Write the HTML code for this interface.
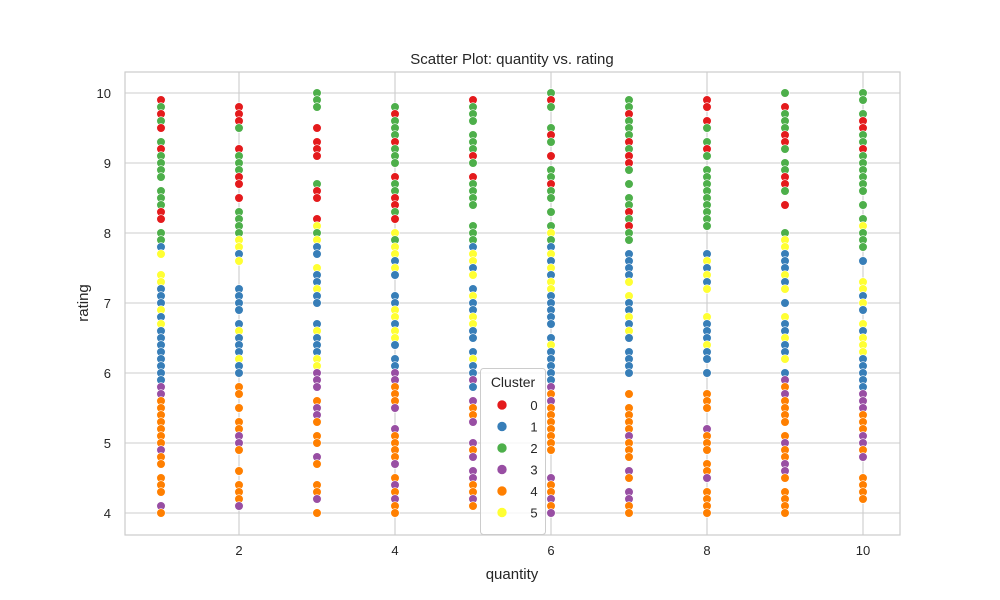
<!DOCTYPE html>
<html><head><meta charset="utf-8"><style>body{margin:0;background:#fff}svg{display:block;font-family:"Liberation Sans",sans-serif}</style></head>
<body>
<svg id="chart" width="1000" height="600">
<rect width="1000" height="600" fill="#fff"/>
<g id="grid"></g><g id="pts"></g>
<rect x="125" y="72" width="775" height="463" fill="none" stroke="#cccccc" stroke-width="1.2"/>
<text x="512" y="64" text-anchor="middle" font-size="15" fill="#262626">Scatter Plot: quantity vs. rating</text>
<text x="512" y="579" text-anchor="middle" font-size="15" fill="#262626">quantity</text>
<text transform="translate(88,303) rotate(-90)" text-anchor="middle" font-size="15" fill="#262626">rating</text>
<g id="legend"></g>
</svg>
<script>
const colors=["#e41a1c","#377eb8","#4daf4a","#984ea3","#ff7f00","#ffff33"];
const xTicks=[2,4,6,8,10];
const yTicks=[4,5,6,7,8,9,10];
const legendLabels=["0","1","2","3","4","5"];
const ratings=[
[9.9,9.8,9.7,9.6,9.5,9.3,9.2,9.1,9.0,8.9,8.8,8.6,8.5,8.4,8.3,8.2,8.0,7.9,7.8,7.7,7.4,7.3,7.2,7.1,7.0,6.9,6.8,6.7,6.6,6.5,6.4,6.3,6.2,6.1,6.0,5.9,5.8,5.7,5.6,5.5,5.4,5.3,5.2,5.1,5.0,4.9,4.8,4.7,4.5,4.4,4.3,4.1,4.0],
[9.8,9.7,9.6,9.5,9.2,9.1,9.0,8.9,8.8,8.7,8.5,8.3,8.2,8.1,8.0,7.9,7.8,7.7,7.6,7.2,7.1,7.0,6.9,6.7,6.6,6.5,6.4,6.3,6.2,6.1,6.0,5.8,5.7,5.5,5.3,5.2,5.1,5.0,4.9,4.6,4.4,4.3,4.2,4.1],
[10.0,9.9,9.8,9.5,9.3,9.2,9.1,8.7,8.6,8.5,8.2,8.1,8.0,7.9,7.8,7.7,7.5,7.4,7.3,7.2,7.1,7.0,6.7,6.6,6.5,6.4,6.3,6.2,6.1,6.0,5.9,5.8,5.6,5.5,5.4,5.3,5.1,5.0,4.8,4.7,4.4,4.3,4.2,4.0],
[9.8,9.7,9.6,9.5,9.4,9.3,9.2,9.1,9.0,8.8,8.7,8.6,8.5,8.4,8.3,8.2,8.0,7.9,7.8,7.7,7.6,7.5,7.4,7.1,7.0,6.9,6.8,6.7,6.6,6.5,6.4,6.2,6.1,6.0,5.9,5.8,5.7,5.6,5.5,5.2,5.1,5.0,4.9,4.8,4.7,4.5,4.4,4.3,4.2,4.1,4.0],
[9.9,9.8,9.7,9.6,9.4,9.3,9.2,9.1,9.0,8.8,8.7,8.6,8.5,8.4,8.1,8.0,7.9,7.8,7.7,7.6,7.5,7.4,7.2,7.1,7.0,6.9,6.8,6.7,6.6,6.5,6.3,6.2,6.1,6.0,5.9,5.8,5.6,5.5,5.4,5.3,5.0,4.9,4.8,4.6,4.5,4.4,4.3,4.2,4.1],
[10.0,9.9,9.8,9.5,9.4,9.3,9.1,8.9,8.8,8.7,8.6,8.5,8.3,8.1,8.0,7.9,7.8,7.7,7.6,7.5,7.4,7.3,7.2,7.1,7.0,6.9,6.8,6.7,6.5,6.4,6.3,6.2,6.1,6.0,5.9,5.8,5.7,5.6,5.5,5.4,5.3,5.2,5.1,5.0,4.9,4.5,4.4,4.3,4.2,4.1,4.0],
[9.9,9.8,9.7,9.6,9.5,9.4,9.3,9.2,9.1,9.0,8.9,8.7,8.5,8.4,8.3,8.2,8.1,8.0,7.9,7.7,7.6,7.5,7.4,7.3,7.1,7.0,6.9,6.8,6.7,6.6,6.5,6.3,6.2,6.1,6.0,5.7,5.5,5.4,5.3,5.2,5.1,5.0,4.9,4.8,4.6,4.5,4.3,4.2,4.1,4.0],
[9.9,9.8,9.6,9.5,9.3,9.2,9.1,8.9,8.8,8.7,8.6,8.5,8.4,8.3,8.2,8.1,7.7,7.6,7.5,7.4,7.3,7.2,6.8,6.7,6.6,6.5,6.4,6.3,6.2,6.0,5.7,5.6,5.5,5.2,5.1,5.0,4.9,4.7,4.6,4.5,4.3,4.2,4.1,4.0],
[10.0,9.8,9.7,9.6,9.5,9.4,9.3,9.2,9.0,8.9,8.8,8.7,8.6,8.4,8.0,7.9,7.8,7.7,7.6,7.5,7.4,7.3,7.2,7.0,6.8,6.7,6.6,6.5,6.4,6.3,6.2,6.0,5.9,5.8,5.7,5.6,5.5,5.4,5.3,5.1,5.0,4.9,4.8,4.7,4.6,4.5,4.3,4.2,4.1,4.0],
[10.0,9.9,9.7,9.6,9.5,9.4,9.3,9.2,9.1,9.0,8.9,8.8,8.7,8.6,8.4,8.2,8.1,8.0,7.9,7.8,7.6,7.3,7.2,7.1,7.0,6.9,6.7,6.6,6.5,6.4,6.3,6.2,6.1,6.0,5.9,5.8,5.7,5.6,5.5,5.4,5.3,5.2,5.1,5.0,4.9,4.8,4.5,4.4,4.3,4.2]
];
const clusters=[
[0,2,0,2,0,2,0,2,2,2,2,2,2,2,0,0,2,2,1,5,5,5,1,1,1,5,1,5,1,1,1,1,1,1,1,1,3,3,4,4,4,4,4,4,4,3,4,4,4,4,4,3,4],
[0,0,0,2,0,2,2,2,0,0,0,2,2,2,2,5,5,1,5,1,1,1,1,1,5,1,1,1,5,1,1,4,4,4,4,4,3,3,4,4,4,4,4,3],
[2,2,2,0,0,0,0,2,0,0,0,5,2,5,1,1,5,1,1,5,1,1,1,5,1,1,1,5,5,3,3,3,4,3,3,4,4,4,3,4,4,4,3,4],
[2,0,2,2,2,0,2,2,2,0,2,2,0,0,2,0,5,2,5,5,1,5,1,1,1,5,5,1,5,5,1,1,1,3,3,4,4,4,3,3,4,4,4,4,3,4,3,4,3,4,4],
[0,2,2,2,2,2,2,0,2,0,2,2,2,2,2,2,2,1,5,5,1,5,1,5,1,1,5,5,1,1,1,5,1,1,3,1,3,4,4,3,3,4,3,3,3,4,4,3,4],
[2,0,2,2,0,2,0,2,2,0,2,2,2,2,5,2,1,5,1,5,1,5,5,1,1,1,1,1,1,5,1,1,1,1,1,3,4,3,4,4,4,4,4,4,4,3,4,4,3,4,3],
[2,2,0,2,2,2,0,2,0,0,2,2,2,2,0,2,0,2,2,1,1,1,1,5,5,1,1,5,1,5,1,1,1,1,1,4,4,4,4,4,3,4,4,4,3,4,3,3,4,4],
[0,0,0,2,2,0,2,2,2,2,2,2,2,2,2,2,1,5,1,5,1,5,5,1,1,1,5,1,1,1,4,4,4,3,4,4,4,4,4,3,4,4,4,4],
[2,0,2,2,2,0,0,2,2,2,0,0,2,0,2,5,5,1,1,1,5,1,5,1,5,1,1,5,1,1,5,1,3,4,3,4,4,4,4,4,3,4,4,3,3,4,4,4,4,4],
[2,2,2,0,0,2,2,0,2,2,2,2,2,2,2,2,5,2,2,2,1,5,5,1,5,1,5,1,5,5,5,1,1,1,1,1,3,3,3,4,4,4,3,3,4,3,4,4,4,4]
];
const NS="http://www.w3.org/2000/svg";
const L=125,R=900,T=72,B=535;
function xs(v){return 161+(v-1)*78;}
function ys(v){return 513-(v-4)*70;}
const grid=document.getElementById('grid'),pts=document.getElementById('pts'),svg=document.getElementById('chart');
function mk(tag,attrs,parent){const e=document.createElementNS(NS,tag);for(const k in attrs)e.setAttribute(k,attrs[k]);parent.appendChild(e);return e;}
xTicks.forEach(t=>{
 const l=mk('line',{x1:xs(t),x2:xs(t),y1:T,y2:B,stroke:'#cccccc','stroke-width':1.1},grid);
 
 
 const tx=mk('text',{x:xs(t),y:B+20,'text-anchor':'middle','font-size':13,fill:'#262626'},svg);
 tx.textContent=t;
 
 
});
yTicks.forEach(t=>{
 const l=mk('line',{x1:L,x2:R,y1:ys(t),y2:ys(t),stroke:'#cccccc','stroke-width':1.1},grid);
 
 
 const tx=mk('text',{x:L-14,y:ys(t)+5,'text-anchor':'end','font-size':13,fill:'#262626'},svg);
 tx.textContent=t;
 
 
});
ratings.forEach((col,i)=>{
 col.forEach((r,j)=>{
  const c=mk('circle',{cx:xs(i+1),cy:ys(r),r:4.3,fill:colors[clusters[i][j]],stroke:'#fff','stroke-width':0.6},pts);
  
  
 });
});
const lg=document.getElementById('legend');
const box=mk('rect',{x:480.5,y:368.5,width:65,height:166,rx:3,fill:'#fff','fill-opacity':0.8,stroke:'#cccccc'},lg);


const tt=mk('text',{x:513,y:387,'text-anchor':'middle','font-size':14,fill:'#262626'},lg);
tt.textContent='Cluster';


legendLabels.forEach((lab,i)=>{
 const y=405+i*21.5;
 const m=mk('circle',{cx:502,cy:y,r:5,fill:colors[i],stroke:'#fff','stroke-width':0.6},lg);
 
 
 const t=mk('text',{x:534,y:y+5,'text-anchor':'middle','font-size':13,fill:'#262626'},lg);
 t.textContent=lab;
 
 
});
</script>
</body></html>
